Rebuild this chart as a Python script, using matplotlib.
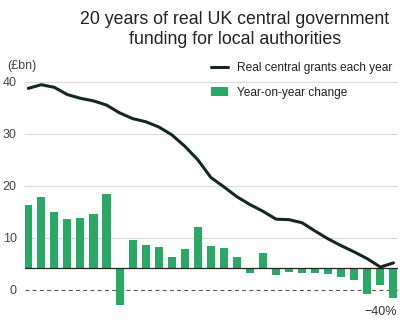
import numpy as np
import matplotlib
matplotlib.use("Agg")
import matplotlib.pyplot as plt

plt.rcParams['font.family'] = ['Liberation Sans', 'DejaVu Sans']

# Real central government grants to local authorities (£bn), one point per period
grants = [38.7, 39.4, 38.9, 37.5, 36.8, 36.3, 35.5, 34.0, 32.9, 32.3,
          31.3, 29.8, 27.6, 25.0, 21.6, 19.8, 17.9, 16.4, 15.1, 13.6,
          13.5, 12.9, 11.3, 9.8, 8.5, 7.3, 6.0, 4.4, 5.2]

# Year-on-year change, drawn from its own baseline
changes = [12.1, 13.7, 10.7, 9.5, 9.7, 10.4, 14.3, -7.0, 5.4, 4.5,
           4.1, 2.2, 3.6, 7.9, 4.3, 3.8, 2.2, -1.0, 2.9, -1.3,
           -0.65, -0.85, -1.0, -1.2, -1.7, -2.2, -5.0, -3.2, -5.8]
change_base = 4.2

yticks = [0, 10, 20, 30, 40]

GREEN = '#2aa865'
DARK = '#13291e'

W, H = 405, 327
fig = plt.figure(figsize=(W / 100, H / 100), dpi=100)
ax = fig.add_axes([25 / W, 1 - 310 / H, 373 / W, 235 / H])

x = np.arange(len(grants))

for v in yticks[1:]:
    ax.axhline(v, color='#d8d8d8', lw=0.8, zorder=0)
ax.axhline(0, color='#555555', lw=0.8, ls=(0, (3.5, 3)), zorder=1)

ax.bar(x, changes, width=0.62, bottom=change_base, color=GREEN,
       label='Year-on-year change', zorder=2)
ax.axhline(change_base, color='#222222', lw=0.9, zorder=3)
ax.plot(x, grants, color=DARK, lw=2.2, solid_capstyle='round',
        solid_joinstyle='round', label='Real central grants each year',
        zorder=4)

ax.set_xlim(-0.25, 28.35)
ax.set_ylim((290 - 310) / 5.21, (290 - 75) / 5.21)
ax.set_yticks(yticks)
ax.set_xticks([])
ax.tick_params(axis='y', length=0, pad=6, labelsize=9, labelcolor='#444444')
for s in ax.spines.values():
    s.set_visible(False)

handles, labels = ax.get_legend_handles_labels()
order = [labels.index('Real central grants each year'),
         labels.index('Year-on-year change')]
fig.legend([handles[i] for i in order], [labels[i] for i in order],
           loc='upper left', bbox_to_anchor=(211 / W, 1 - 62 / H),
           frameon=False, fontsize=8.6, borderpad=0, borderaxespad=0,
           handlelength=1.45, handleheight=0.8, handletextpad=0.75,
           labelspacing=1.05, labelcolor='#222222')

fig.text(7 / W, 1 - 66 / H, '(£bn)', fontsize=9, color='#444444',
         ha='left', va='center')
fig.text(397 / W, 1 - 312 / H, '\u221240%', fontsize=9, color='#333333',
         ha='right', va='center')
fig.text(235 / W, 1 - 29.5 / H,
         '20 years of real UK central government\nfunding for local authorities',
         fontsize=12.8, color='#222222', ha='center', va='center',
         linespacing=1.2)

fig.savefig('out.png', dpi=100, facecolor='white')
